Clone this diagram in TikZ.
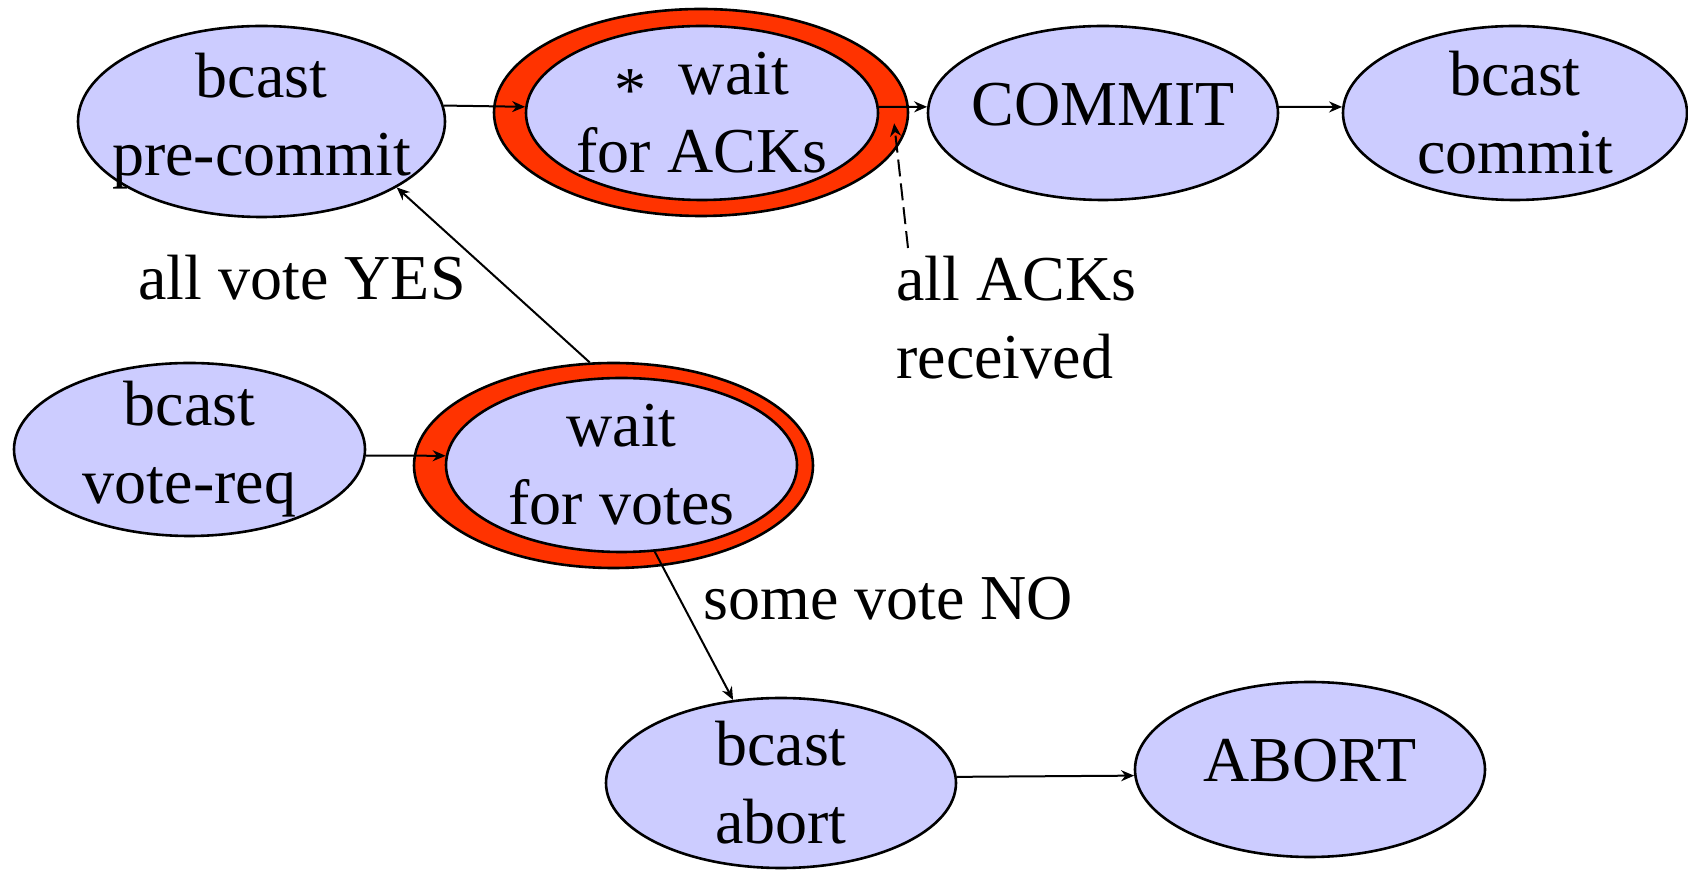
\documentclass[tikz,border=0pt]{standalone}
\usepackage{fontspec}
\setmainfont{Liberation Serif}
\newfontfamily\statefont{Liberation Serif}
\usetikzlibrary{arrows.meta,shapes.geometric}
\definecolor{StateFill}{HTML}{CCCCFF}
\definecolor{RingRed}{HTML}{FF3300}
\newcommand{\waitstar}{\raisebox{-8.5pt}{*}}

\begin{document}
\begin{tikzpicture}[x=0.5pt,y=-0.5pt,
  every node/.style={font=\statefont\fontsize{32}{39}\selectfont},
  state/.style={ellipse,draw=black,fill=StateFill,line width=1.3pt,align=center,inner sep=-20pt},
  oneline/.style={text depth=9pt},
  ring/.style={ellipse,draw=black,fill=RingRed,line width=1.3pt,inner sep=0pt},
  edgelabel/.style={inner sep=0pt,align=left},
  arrow/.style={-{Stealth[length=6.5pt,width=5.5pt]},line width=1pt},
  dasharrow/.style={arrow,dash pattern=on 8.5pt off 3.5pt}
]
\useasboundingbox (0,0) rectangle (1688,870);
% states
\node[state,minimum width=183.5pt,minimum height=95.5pt] (precommit) at (261.5,121.5) {bcast\\pre-commit};
\node[ring,minimum width=207pt,minimum height=103.5pt] (acksring) at (701,112.5) {};
\node[state,minimum width=176pt,minimum height=87pt] (acks) at (702,113) {\waitstar\ \ wait\\for ACKs};
\node[state,oneline,minimum width=175pt,minimum height=87pt] (commit) at (1103,113) {COMMIT};
\node[state,minimum width=172pt,minimum height=87pt] (bcommit) at (1515,113) {bcast\\commit};
\node[state,minimum width=175.5pt,minimum height=86.5pt] (votereq) at (189.5,449.5) {bcast\\vote-req};
\node[ring,minimum width=199.5pt,minimum height=102.5pt] (votesring) at (613.5,465.5) {};
\node[state,minimum width=175.5pt,minimum height=87pt] (votes) at (621.5,465) {wait\\for votes};
\node[state,minimum width=175pt,minimum height=85pt] (abortb) at (781,783) {bcast\\abort};
\node[state,oneline,minimum width=175pt,minimum height=87.5pt] (abort) at (1310,769.5) {ABORT};
% labels
\node[edgelabel,anchor=base east] (yeslbl) at (466,300) {all vote YES};
\node[edgelabel,anchor=north west] (acklbl) at (896,256) {all ACKs\\received};
\node[edgelabel,anchor=base west] (nolbl) at (703,620) {some vote NO};
% transitions
\draw[arrow] (precommit.5) -- (acks.178);
\draw[arrow] (acks.2) -- (commit.178);
\draw[arrow] (commit.2) -- (bcommit.178);
\draw[arrow] (votereq.-2) -- (votes.177);
\draw[arrow] (votesring.103) -- (precommit.-26);
\draw[arrow] (votes.-69) -- (abortb.120);
\draw[arrow] (abortb.2) -- (abort.182);
\coordinate (ackfrom) at ([shift={(6pt,4pt)}]acklbl.north west);
\coordinate (acktip) at ([xshift=-7pt]acksring.-3);
\draw[dasharrow] (ackfrom) -- (acktip);
\end{tikzpicture}
\end{document}
